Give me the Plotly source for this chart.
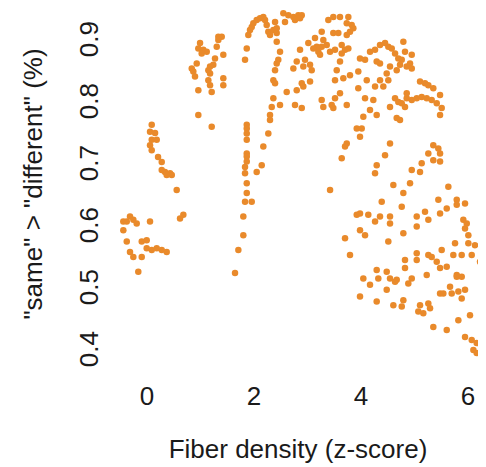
import plotly.graph_objects as go

# Fiber density (z-score)
x_vals = [
    # cluster near 0.1-0.5 (0.66-0.77)
    0.088, 0.056, 0.150, 0.088, 0.181, 0.056, 0.088, 0.206, 0.275, 0.275, 0.336, 0.430, 0.462, 0.368, 0.555,
    # cluster near 0 (0.53-0.63)
    -0.443, -0.379, -0.318, -0.256, -0.193, -0.443, 0.056, -0.379, -0.099, -0.006, -0.318, -0.256, -0.006,
    0.088, 0.181, 0.275, 0.368, -0.099, -0.163, 0.617, 0.679,
    # cluster near 1.0-1.4
    0.991, 0.959, 1.052, 1.116, 1.022, 1.333, 1.396, 1.333, 1.303, 1.426, 1.271, 0.929, 0.836, 0.865, 0.897,
    1.178, 1.239, 1.146, 1.178, 1.146, 1.426, 1.426, 1.178, 1.209, 0.959, 0.959, 1.209,
    # streak near 1.8-2.5
    1.832, 1.864, 1.893, 1.925, 1.957, 1.987, 2.050, 2.112, 2.174, 2.206, 2.237, 2.267, 2.299, 2.361, 2.393,
    2.424, 2.424, 2.424, 2.486, 2.454, 2.424, 2.393, 2.361, 2.393, 2.361, 2.331, 2.299, 2.299, 2.267, 2.174,
    2.144, 2.050, 1.864, 1.864, 1.864, 1.864, 1.864, 1.864, 1.864, 1.832, 1.832, 1.864, 1.864, 1.832, 1.957,
    1.800, 1.800, 1.707, 1.645, 2.486,
    # upper band 2.5-5.5
    2.548, 2.641, 2.735, 2.828, 2.892, 2.860, 2.766, 2.579, 3.389, 3.482, 3.607, 3.763, 3.733, 3.826, 3.856,
    3.794, 3.733, 3.576, 3.482, 3.265, 3.140, 3.295, 3.359, 3.265, 3.172, 3.108, 3.015, 2.860, 2.798, 2.735,
    2.953, 2.921, 3.047, 3.078, 3.202, 3.234, 3.421, 3.514, 3.639, 3.701, 3.763, 3.639, 3.607, 3.546, 3.514,
    3.669, 3.794, 3.949, 3.981, 4.075, 4.168, 4.262, 4.355, 4.449, 4.510, 4.574, 4.636, 4.697, 4.761, 4.791,
    4.822, 4.729, 4.854, 4.948, 4.916, 4.948, 4.667, 4.542, 4.480, 4.293, 4.355, 4.355, 4.510, 4.107, 3.949,
    4.262, 4.417, 4.230, 4.075, 4.168, 4.043, 4.293, 4.542, 4.636, 4.697, 4.761, 4.854, 4.948, 5.041, 5.134,
    5.228, 5.321, 5.415, 5.477, 5.103, 5.196, 5.258, 5.351, 5.508, 5.477, 4.667, 4.729, 4.822, 4.854, 2.611,
    2.798, 2.892, 2.921, 3.047, 2.766, 2.892, 3.265, 3.295, 3.452, 3.482, 3.514, 3.607, 3.733, 3.920, 4.013,
    3.981, 3.733, 3.701, 3.639, 4.542, 4.449, 4.293, 4.262, 4.948, 5.103, 5.134, 5.351, 5.445, 5.477, 5.258,
    5.351, 5.477,
    # lower spread 3.4-6.3
    3.421, 4.604, 4.791, 4.916, 5.632, 4.387, 4.761, 5.445, 5.789, 5.789, 5.944, 5.602, 5.477, 5.196, 5.041,
    5.041, 5.258, 3.920, 3.981, 4.136, 4.355, 4.262, 4.542, 4.542, 3.981, 4.075, 3.701, 4.510, 4.791, 5.912,
    5.976, 5.944, 6.006, 6.006, 6.131, 5.757, 5.508, 5.882, 6.069, 5.725, 5.258, 5.321, 5.415, 5.477, 5.602,
    5.041, 5.041, 4.822, 4.822, 3.794, 4.293, 4.480, 4.043, 4.323, 4.542, 4.667, 4.636, 4.948, 4.884, 4.168,
    4.480, 3.981, 4.293, 4.604, 4.791, 4.761, 5.103, 5.258, 5.071, 5.164, 5.290, 5.228, 5.789, 5.789, 5.882,
    5.664, 5.477, 5.538, 5.695, 5.819, 5.944, 5.882, 6.224, 6.286, 6.318, 6.256, 6.318, 6.037, 5.819, 5.351,
    5.602, 5.944, 6.069, 6.162, 6.100, 6.162,
]

# "same" > "different" (%)
y_vals = [
    0.768, 0.757, 0.755, 0.744, 0.744, 0.735, 0.727, 0.716, 0.708, 0.695, 0.692, 0.690, 0.687, 0.687, 0.663,
    0.612, 0.612, 0.620, 0.615, 0.609, 0.598, 0.612, 0.580, 0.580, 0.582, 0.563, 0.555, 0.569,
    0.566, 0.569, 0.566, 0.563, 0.555, 0.531, 0.617, 0.623,
    0.900, 0.891, 0.889, 0.886, 0.883, 0.910, 0.910, 0.905, 0.894, 0.881, 0.875, 0.867, 0.859, 0.854, 0.846,
    0.862, 0.865, 0.856, 0.851, 0.840, 0.843, 0.832, 0.832, 0.821, 0.824, 0.784, 0.765,
    0.873, 0.891, 0.913, 0.921, 0.926, 0.932, 0.937, 0.940, 0.942, 0.937, 0.929, 0.918, 0.913, 0.921, 0.934,
    0.924, 0.916, 0.902, 0.886, 0.873, 0.867, 0.856, 0.840, 0.835, 0.811, 0.797, 0.784, 0.776, 0.754, 0.733,
    0.703, 0.692, 0.768, 0.762, 0.754, 0.744, 0.722, 0.717, 0.709, 0.700, 0.690, 0.674, 0.658, 0.644, 0.644,
    0.620, 0.590, 0.566, 0.529, 0.800,
    0.948, 0.945, 0.942, 0.945, 0.945, 0.940, 0.937, 0.934, 0.937, 0.942, 0.942, 0.942, 0.932, 0.929, 0.924,
    0.918, 0.913, 0.916, 0.916, 0.918, 0.908, 0.905, 0.897, 0.894, 0.894, 0.891, 0.900, 0.889, 0.870, 0.859,
    0.873, 0.862, 0.865, 0.856, 0.886, 0.881, 0.886, 0.889, 0.897, 0.889, 0.891, 0.883, 0.870, 0.856, 0.840,
    0.843, 0.848, 0.854, 0.875, 0.873, 0.886, 0.889, 0.897, 0.900, 0.894, 0.891, 0.883, 0.875, 0.873, 0.902,
    0.886, 0.865, 0.862, 0.881, 0.867, 0.859, 0.856, 0.862, 0.851, 0.870, 0.867, 0.840, 0.840, 0.840, 0.827,
    0.830, 0.830, 0.808, 0.811, 0.792, 0.781, 0.784, 0.797, 0.811, 0.805, 0.803, 0.811, 0.808, 0.811, 0.813,
    0.811, 0.808, 0.803, 0.816, 0.838, 0.835, 0.832, 0.827, 0.795, 0.784, 0.779, 0.776, 0.797, 0.819, 0.821,
    0.824, 0.835, 0.830, 0.838, 0.800, 0.795, 0.808, 0.797, 0.800, 0.795, 0.811, 0.819, 0.800, 0.762, 0.762,
    0.749, 0.738, 0.733, 0.714, 0.738, 0.719, 0.703, 0.690, 0.695, 0.692, 0.706, 0.735, 0.730, 0.722, 0.722,
    0.711, 0.709,
    0.663, 0.671, 0.658, 0.674, 0.668, 0.644, 0.636, 0.647, 0.647, 0.639, 0.641, 0.633, 0.625, 0.628, 0.620,
    0.604, 0.615, 0.623, 0.625, 0.623, 0.620, 0.612, 0.620, 0.609, 0.598, 0.590, 0.585, 0.580, 0.593, 0.615,
    0.609, 0.601, 0.590, 0.577, 0.574, 0.577, 0.566, 0.558, 0.558, 0.558, 0.558, 0.555, 0.547, 0.537, 0.539,
    0.561, 0.550, 0.550, 0.537, 0.558, 0.534, 0.531, 0.520, 0.520, 0.520, 0.518, 0.515, 0.520, 0.512, 0.510,
    0.502, 0.491, 0.483, 0.477, 0.485, 0.475, 0.477, 0.480, 0.467, 0.464, 0.472, 0.526, 0.526, 0.523, 0.523,
    0.507, 0.496, 0.496, 0.496, 0.499, 0.502, 0.488, 0.547, 0.547, 0.537, 0.510, 0.499, 0.461, 0.453, 0.442,
    0.437, 0.426, 0.421, 0.416, 0.405, 0.400,
]

x_ticks = [0, 2, 4, 6]
y_ticks = [0.4, 0.5, 0.6, 0.7, 0.8, 0.9]

FONT = "Liberation Sans, Arial, sans-serif"
ORANGE = "#E98A2B"
TEXT = "#1a1a1a"
FS = 26

fig = go.Figure(
    go.Scatter(
        x=x_vals,
        y=y_vals,
        mode="markers",
        marker=dict(color=ORANGE, size=6.5, line=dict(width=0)),
        hoverinfo="x+y",
        cliponaxis=False,
    )
)

# The page body has an 8px default margin, so the figure is 8px smaller than
# the window and margins are reduced accordingly.
fig.update_layout(
    width=478,
    height=459,
    margin=dict(l=102, r=0, t=0, b=107),
    paper_bgcolor="white",
    plot_bgcolor="white",
    font=dict(family=FONT, size=FS, color=TEXT),
    showlegend=False,
)

fig.update_xaxes(
    range=[-0.692, 6.336],
    automargin=False,
    tickvals=x_ticks,
    ticktext=[str(v) for v in x_ticks],
    ticks="outside",
    ticklen=13,
    tickcolor="rgba(0,0,0,0)",
    showline=False,
    showgrid=False,
    zeroline=False,
    tickfont=dict(family=FONT, size=FS, color=TEXT),
    title=dict(text="Fiber density (z-score)", standoff=29,
               font=dict(family=FONT, size=FS, color=TEXT)),
)

fig.update_yaxes(
    range=[0.3887, 0.9565],
    automargin=False,
    tickvals=y_ticks,
    ticktext=[f"{v:.1f}" for v in y_ticks],
    tickangle=-90,
    ticks="outside",
    ticklen=1,
    tickcolor="rgba(0,0,0,0)",
    showline=False,
    showgrid=False,
    zeroline=False,
    tickfont=dict(family=FONT, size=FS, color=TEXT),
    title=dict(text='"same" > "different" (%)', standoff=23,
               font=dict(family=FONT, size=FS, color=TEXT)),
)

fig.write_html("out.html")
